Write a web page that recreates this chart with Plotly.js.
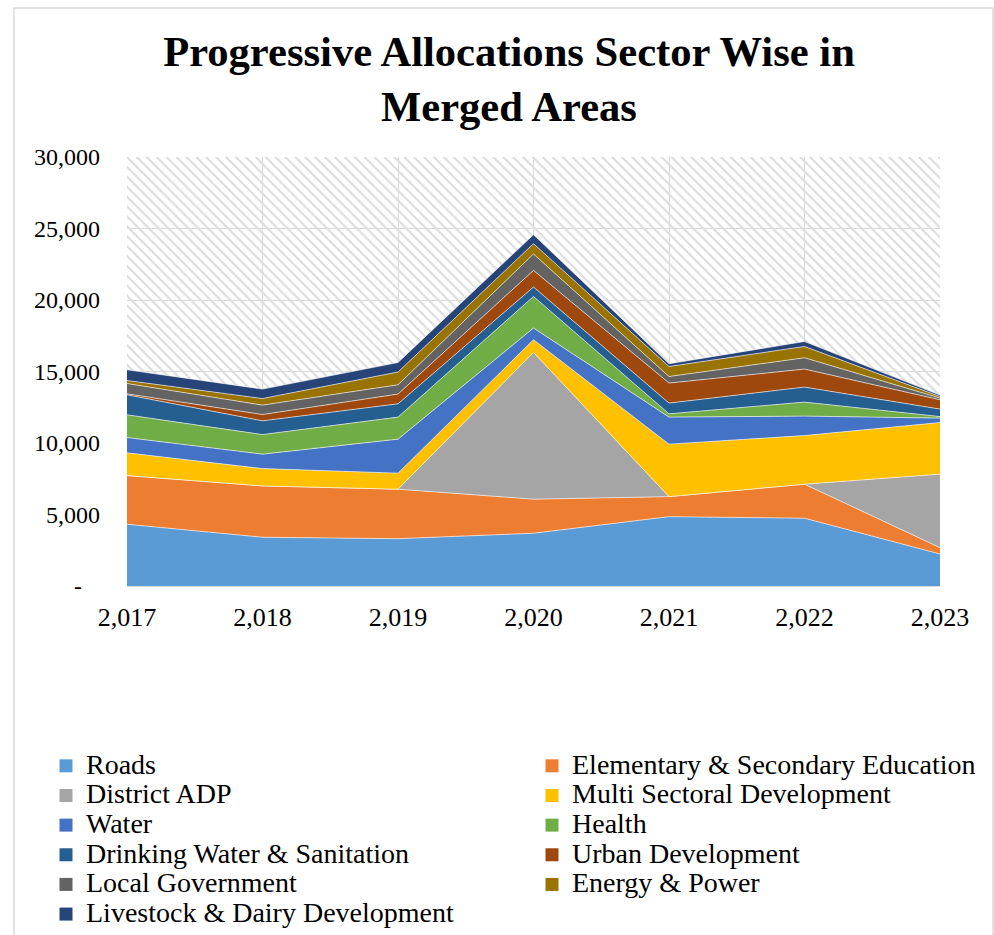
<!DOCTYPE html>
<html>
<head>
<meta charset="utf-8">
<script src="https://cdn.plot.ly/plotly-3.0.1.min.js"></script>
<style>html,body{margin:0;padding:0;background:#fff}#chart{width:994px;height:935px}</style>
</head>
<body>
<div id="chart"></div>
<script>
// ---- data (in allocation units) ----
const years = [2017, 2018, 2019, 2020, 2021, 2022, 2023];
const yearLabels = ['2,017', '2,018', '2,019', '2,020', '2,021', '2,022', '2,023'];
const yTickVals = [0, 5000, 10000, 15000, 20000, 25000, 30000];
const yTickText = ['-\u00a0\u00a0\u00a0', '5,000', '10,000', '15,000', '20,000', '25,000', '30,000'];

const sectorNames = ['Roads', 'Elementary & Secondary Education', 'District ADP', 'Multi Sectoral Development',
  'Water', 'Health', 'Drinking Water & Sanitation', 'Urban Development', 'Local Government',
  'Energy & Power', 'Livestock & Dairy Development'];
const roads         = [4320, 3410, 3310, 3690, 4850, 4740, 2240];
const education     = [3400, 3590, 3460, 2380, 1400, 2380, 440];
const districtADP   = [0, 0, 0, 10260, 0, 0, 5140];
const multiSectoral = [1590, 1210, 1120, 890, 3670, 3400, 3610];
const water         = [1070, 1010, 2380, 820, 1890, 1360, 310];
const health        = [1590, 1370, 1540, 2210, 230, 980, 110];
const drinkingWater = [1400, 960, 930, 660, 750, 1050, 520];
const urbanDev      = [70, 440, 680, 1160, 1400, 1260, 650];
const localGov      = [720, 660, 650, 1150, 460, 790, 120];
const energyPower   = [210, 460, 890, 720, 700, 790, 110];
const livestock     = [750, 660, 670, 630, 190, 350, 100];
const sectorValues = [roads, education, districtADP, multiSectoral, water, health,
  drinkingWater, urbanDev, localGov, energyPower, livestock];
const sectorColors = ['#5B9BD5', '#ED7D31', '#A5A5A5', '#FFC000', '#4472C4', '#70AD47',
  '#255E91', '#9E480E', '#636363', '#997300', '#264478'];

const yMax = 30000;
const FONT = '"Liberation Serif", "Times New Roman", serif';

const traces = [];
// hatched plot-area background
traces.push({
  type: 'scatter', mode: 'none',
  x: [years[0], years[years.length - 1]], y: [yMax, yMax],
  fill: 'tozeroy', fillcolor: 'rgba(0,0,0,0)',
  fillpattern: {shape: '\\', fgcolor: '#dcdcdc', bgcolor: 'rgba(0,0,0,0)', size: 7, solidity: 0.3},
  showlegend: false, hoverinfo: 'skip'
});
// stacked areas
sectorNames.forEach((name, i) => {
  traces.push({
    type: 'scatter', mode: 'lines', name: name,
    x: years, y: sectorValues[i], stackgroup: 'one',
    line: {color: 'rgba(255,255,255,0.75)', width: 0.8},
    fillcolor: sectorColors[i], showlegend: false
  });
});
// legend entries (square keys), two columns
const leftCol = [0, 2, 4, 6, 8, 10];
const rightCol = [1, 3, 5, 7, 9];
leftCol.concat(rightCol).forEach(i => {
  traces.push({
    type: 'scatter', mode: 'markers',
    name: '<span style="font-size:28px">' + sectorNames[i].replace(/&/g, '&amp;') + '</span>',
    x: [null], y: [null],
    marker: {symbol: 'square', size: 13, color: sectorColors[i]},
    legend: rightCol.includes(i) ? 'legend2' : 'legend',
    showlegend: true, hoverinfo: 'skip'
  });
});

const W = 994, H = 935, L = 127, R = 54, T = 157, B = 349;
const pw = W - L - R, ph = H - T - B;
const px = v => (v - L) / pw, py = v => (H - B - v) / ph;

const legendCommon = {
  xanchor: 'left', yanchor: 'top',
  orientation: 'v', bgcolor: 'rgba(0,0,0,0)', borderwidth: 0,
  font: {family: FONT, size: 20.5, color: '#000'}, traceorder: 'normal',
  itemclick: false, itemdoubleclick: false
};

const layout = {
  width: W, height: H,
  margin: {l: L, r: R, t: T, b: B, autoexpand: false},
  paper_bgcolor: '#fff', plot_bgcolor: '#fff',
  title: {
    text: 'Progressive Allocations Sector Wise in<br>Merged Areas',
    font: {family: FONT, size: 42.6, color: '#000', weight: 'bold'},
    xref: 'container', yref: 'container', x: 509 / W, xanchor: 'center',
    y: 1 - 66 / H, yanchor: 'top'
  },
  xaxis: {
    range: [years[0], years[years.length - 1]],
    tickvals: years, ticktext: yearLabels, tickangle: 0,
    showgrid: true, gridcolor: '#d9d9d9', gridwidth: 1,
    showline: true, linecolor: '#d9d9d9', linewidth: 1,
    zeroline: false, ticks: '', ticklabelstandoff: 8,
    tickfont: {family: FONT, size: 26, color: '#000'}, fixedrange: true
  },
  yaxis: {
    range: [0, yMax],
    tickvals: yTickVals, ticktext: yTickText,
    showgrid: true, gridcolor: '#d9d9d9', gridwidth: 1,
    showline: false, zeroline: false, ticks: '', ticklabelstandoff: 26,
    tickfont: {family: FONT, size: 24, color: '#000'}, fixedrange: true
  },
  legend: Object.assign({}, legendCommon, {x: px(46), y: py(746)}),
  legend2: Object.assign({}, legendCommon, {x: px(532), y: py(746)}),
  shapes: [{
    type: 'rect', xref: 'paper', yref: 'paper', layer: 'below',
    x0: px(14), x1: px(993), y0: py(950), y1: py(8),
    line: {color: '#d9d9d9', width: 1.5}, fillcolor: 'rgba(0,0,0,0)'
  }],
  showlegend: true
};

Plotly.newPlot('chart', traces, layout, {displayModeBar: false, staticPlot: true});
</script>
</body>
</html>
